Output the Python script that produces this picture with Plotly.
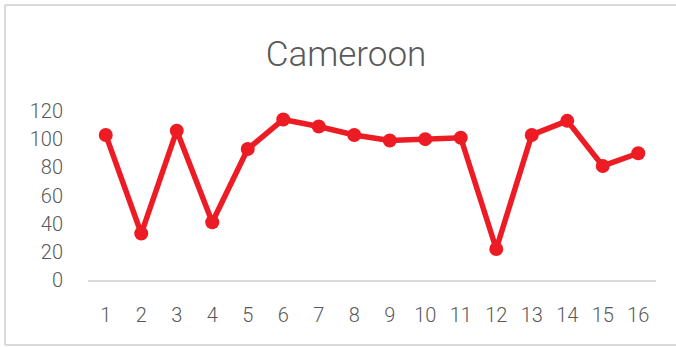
import plotly.graph_objects as go

# Series data
periods = list(range(1, 17))
values = [103, 33, 106, 41, 93, 114, 109, 103, 99, 100, 101, 22, 103, 113, 81, 90]
y_ticks = [0, 20, 40, 60, 80, 100, 120]
title_text = "Cameroon"

W, H = 676, 347
L, R, T, B = 88, 20, 111, 67
plot_w = W - L - R
plot_h = H - T - B

def px_x(p):
    return (p - L) / plot_w

def px_y(p):
    return (H - B - p) / plot_h

red = "#ED1C24"
grey_text = "#595959"
font_family = "Roboto"

fig = go.Figure()
fig.add_trace(go.Scatter(
    x=periods, y=values, mode="lines+markers",
    line=dict(color=red, width=5.5),
    marker=dict(color=red, size=14),
    hoverinfo="skip", showlegend=False,
))

fig.update_layout(
    width=W, height=H,
    margin=dict(l=L, r=R, t=T, b=B),
    paper_bgcolor="white", plot_bgcolor="white",
    font=dict(family=font_family, color=grey_text),
    title=dict(
        text=title_text, x=346 / W, xanchor="center",
        xref="container", yref="container", y=1 - 54 / H, yanchor="middle",
        font=dict(size=35, family=font_family, color=grey_text, weight=300),
    ),
    xaxis=dict(
        range=[0.5, 16.5], tickmode="array", tickvals=periods,
        ticktext=[str(p) for p in periods],
        showgrid=False, zeroline=False,
        showline=True, linecolor="#d9d9d9", linewidth=2,
        ticks="", ticklabelstandoff=16,
        tickfont=dict(size=20, family=font_family, color=grey_text, weight=300),
        fixedrange=True,
    ),
    yaxis=dict(
        range=[0, 120], tickmode="array", tickvals=y_ticks,
        showgrid=False, zeroline=False, showline=False,
        ticks="", ticklabelstandoff=24,
        tickfont=dict(size=20, family=font_family, color=grey_text, weight=300),
        fixedrange=True,
    ),
    shapes=[
        dict(type="line", xref="paper", yref="paper",
             x0=px_x(5), x1=px_x(5), y0=px_y(5), y1=px_y(345),
             line=dict(color="#d9d9d9", width=2), layer="below"),
        dict(type="line", xref="paper", yref="paper",
             x0=px_x(5), x1=px_x(700), y0=px_y(5), y1=px_y(5),
             line=dict(color="#d9d9d9", width=2), layer="below"),
        dict(type="line", xref="paper", yref="paper",
             x0=px_x(5), x1=px_x(700), y0=px_y(345), y1=px_y(345),
             line=dict(color="#d9d9d9", width=2), layer="below"),
    ],
)

fig.write_html("out.html")
